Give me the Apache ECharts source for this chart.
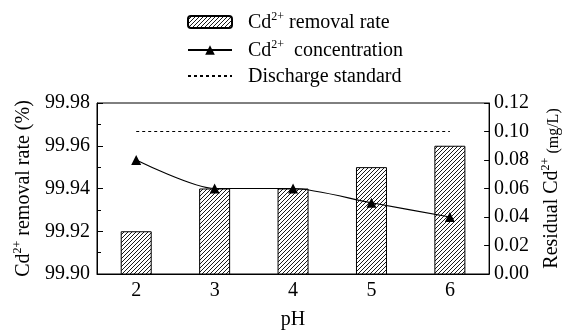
<!DOCTYPE html>
<html><head><meta charset="utf-8">
<script src="https://cdn.jsdelivr.net/npm/echarts@6/dist/echarts.min.js"></script>
<style>html,body{margin:0;padding:0;background:#fff}#c{width:570px;height:335px}</style>
</head><body><div id="c"></div>
<script>
const categories = ['2','3','4','5','6'];
const removalRate = [99.92, 99.94, 99.94, 99.95, 99.96];
const concentration = [0.08, 0.06, 0.06, 0.05, 0.04];
const dischargeStandard = [0.10, 0.10, 0.10, 0.10, 0.10];
const FONT = 'Liberation Serif';

function hatch(){
  const s = 4;
  const c = document.createElement('canvas'); c.width = s; c.height = s;
  const g = c.getContext('2d');
  g.fillStyle = '#fff'; g.fillRect(0,0,s,s);
  g.strokeStyle = '#000'; g.lineWidth = 0.9;
  g.beginPath();
  g.moveTo(0,s); g.lineTo(s,0);
  g.moveTo(-1,1); g.lineTo(1,-1);
  g.moveTo(s-1,s+1); g.lineTo(s+1,s-1);
  g.stroke();
  return c;
}
const pattern = {image: hatch(), repeat: 'repeat'};
const rich = {
  n: {fontFamily: FONT, fontSize: 20, color: '#000', lineHeight: 22, verticalAlign: 'bottom'},
  s: {fontFamily: FONT, fontSize: 12, color: '#000', lineHeight: 22, verticalAlign: 'top'},
  m: {fontFamily: FONT, fontSize: 16, color: '#000', lineHeight: 22, verticalAlign: 'bottom'}
};
const chart = echarts.init(document.getElementById('c'));
chart.setOption({
  animation: false,
  backgroundColor: '#fff',
  grid: {left: 97, right: 73, top: 103, bottom: 50, show: true, borderColor: '#000', borderWidth: 1},
  legend: {
    orient: 'vertical', left: 182, top: 6, itemGap: 6, itemWidth: 44, itemHeight: 12,
    textStyle: {fontFamily: FONT, fontSize: 20, color: '#000', rich: rich, padding: [0, 0, 0, 11]},
    formatter: function(name){
      if (name === 'Cd2+ removal rate') return '{n|Cd}{s|2+}{n| removal rate}';
      if (name === 'Cd2+ concentration') return '{n|Cd}{s|2+}{n|  concentration}';
      return '{n|' + name + '}';
    },
    data: ['Cd2+ removal rate', 'Cd2+ concentration', {name: 'Discharge standard', itemStyle: {opacity: 0}}]
  },
  xAxis: {
    type: 'category', data: categories,
    name: 'pH', nameLocation: 'middle', nameGap: 36,
    nameTextStyle: {fontFamily: FONT, fontSize: 20, color: '#000'},
    axisLine: {lineStyle: {color: '#000'}},
    axisTick: {inside: true, length: 5, lineStyle: {color: '#000'}},
    axisLabel: {fontFamily: FONT, fontSize: 20, color: '#000', margin: 7}
  },
  yAxis: [{
    type: 'value', min: 99.90, max: 99.98, interval: 0.02,
    name: '{n|Cd}{s|2+}{n| removal rate (%)}', nameLocation: 'middle', nameGap: 63, nameRotate: 90,
    nameTextStyle: {rich: rich},
    axisLine: {show: true, lineStyle: {color: '#000'}},
    axisTick: {show: true, inside: true, length: 6, lineStyle: {color: '#000'}},
    minorTick: {show: true, splitNumber: 2, length: 4, lineStyle: {color: '#000'}},
    splitLine: {show: false},
    axisLabel: {fontFamily: FONT, fontSize: 20, color: '#000', margin: 7, formatter: v => v.toFixed(2)}
  }, {
    type: 'value', min: 0, max: 0.12, interval: 0.02, position: 'right',
    name: '{n|Residual Cd}{s|2+}{m| (mg/L)}', nameLocation: 'middle', nameGap: 37, nameRotate: 90,
    nameTextStyle: {rich: rich},
    axisLine: {show: true, lineStyle: {color: '#000'}},
    axisTick: {show: true, inside: true, length: 5, lineStyle: {color: '#000'}},
    splitLine: {show: false},
    axisLabel: {fontFamily: FONT, fontSize: 20, color: '#000', margin: 5, formatter: v => v.toFixed(2)}
  }],
  series: [{
    name: 'Cd2+ removal rate', type: 'bar', data: removalRate, barWidth: 31,
    itemStyle: {color: pattern, borderColor: '#000', borderWidth: 1}
  }, {
    name: 'Cd2+ concentration', type: 'line', yAxisIndex: 1, data: concentration,
    smooth: 0.25, symbol: 'triangle', symbolSize: 10,
    lineStyle: {color: '#000', width: 1.2}, itemStyle: {color: '#000'}
  }, {
    name: 'Discharge standard', type: 'line', yAxisIndex: 1, data: dischargeStandard,
    symbol: 'none', lineStyle: {color: '#000', width: 1.2, type: [3, 3]}, itemStyle: {color: '#000'}
  }]
});
</script></body></html>
